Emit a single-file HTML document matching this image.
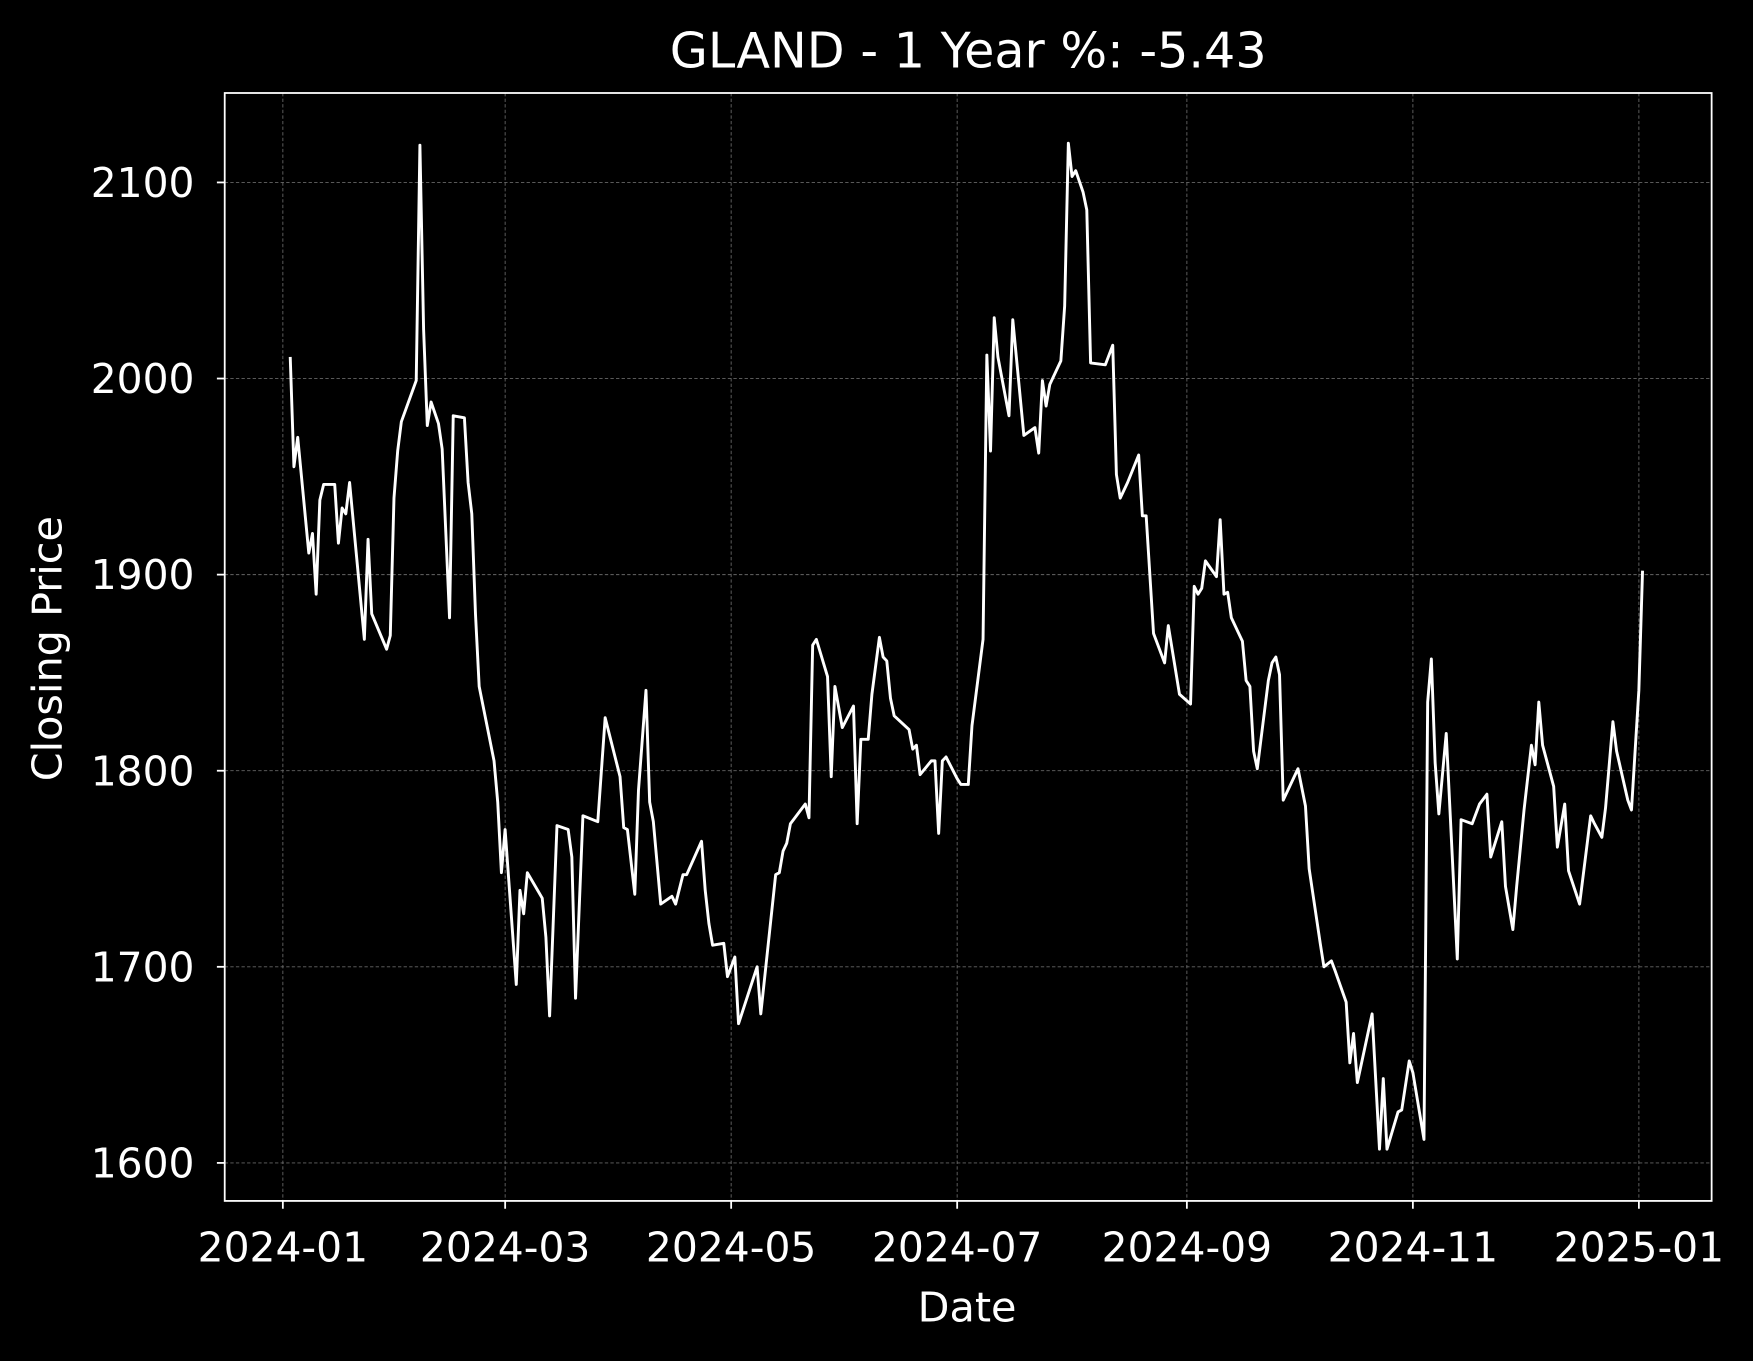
<!DOCTYPE html>
<html><head><meta charset="utf-8"><style>html,body{margin:0;padding:0;background:#000}svg{display:block}</style></head>
<body>
<svg id="chart" xmlns="http://www.w3.org/2000/svg" width="1753" height="1361" viewBox="0 0 1568 1217" style="background:#000">
<rect x="0" y="0" width="1568" height="1217" fill="#000"/>
<g id="grid"></g>
<g id="series"></g>
<rect x="201" y="83" width="1330" height="991" fill="none" stroke="#fff" stroke-width="1.6"/>
<g id="ticks" font-family="DejaVu Sans, Liberation Sans, sans-serif" font-size="36.5" fill="#fff"></g>
<text x="866" y="60" text-anchor="middle" font-family="DejaVu Sans, Liberation Sans, sans-serif" font-size="44" fill="#fff">GLAND - 1 Year %: -5.43</text>
<text x="865" y="1182" text-anchor="middle" font-family="DejaVu Sans, Liberation Sans, sans-serif" font-size="37" fill="#fff">Date</text>
<text x="0" y="0" transform="translate(55,580) rotate(-90)" text-anchor="middle" font-family="DejaVu Sans, Liberation Sans, sans-serif" font-size="37" fill="#fff">Closing Price</text>
</svg>
<script>
// days since 2024-01-01
const days = [2,3,4,7,8,9,10,11,14,15,16,17,18,22,23,24,28,29,30,31,32,36,37,38,39,40,42,43,45,46,49,50,51,52,53,57,58,59,60,63,64,65,66,70,71,72,74,77,78,79,81,85,87,91,92,93,95,96,98,99,100,102,105,106,108,109,113,114,115,116,119,120,122,123,128,129,133,134,135,136,137,141,142,143,144,147,148,149,151,154,155,156,158,159,161,162,163,164,165,169,170,171,172,175,176,177,178,179,182,183,185,186,189,190,191,192,193,196,197,200,203,204,205,206,207,210,211,212,213,214,216,217,218,222,224,225,226,228,231,232,233,235,238,239,242,245,246,247,248,249,252,253,254,255,256,259,260,261,262,263,266,267,268,269,270,274,276,277,280,281,283,284,287,288,289,290,294,296,297,298,301,302,304,305,308,309,310,311,312,314,317,318,321,323,325,326,329,330,332,333,335,337,338,339,340,343,344,346,347,350,353,354,356,357,359,360,363,364,366,367];
const closes = [2011,1955,1970,1911,1921,1890,1938,1946,1946,1916,1934,1931,1947,1867,1918,1880,1862,1869,1939,1963,1978,1999,2119,2025,1976,1988,1977,1964,1878,1981,1980,1947,1931,1880,1843,1805,1784,1748,1770,1691,1739,1727,1748,1735,1715,1675,1772,1770,1756,1684,1777,1774,1827,1797,1771,1770,1737,1790,1841,1784,1774,1732,1736,1732,1747,1747,1764,1739,1722,1711,1712,1695,1705,1671,1700,1676,1747,1748,1759,1763,1773,1783,1776,1864,1867,1848,1797,1843,1822,1833,1773,1816,1816,1839,1868,1858,1856,1837,1828,1821,1811,1813,1798,1805,1805,1768,1805,1807,1796,1793,1793,1823,1867,2012,1963,2031,2011,1981,2030,1971,1975,1962,1999,1986,1997,2009,2037,2120,2103,2106,2095,2086,2008,2007,2017,1951,1939,1947,1961,1930,1930,1870,1855,1874,1839,1834,1894,1890,1893,1907,1899,1928,1890,1891,1878,1866,1846,1843,1810,1801,1846,1855,1858,1849,1785,1801,1782,1750,1712,1700,1703,1698,1682,1651,1666,1641,1676,1607,1643,1607,1626,1627,1652,1646,1612,1835,1857,1804,1778,1819,1704,1775,1773,1783,1788,1756,1774,1741,1719,1741,1780,1813,1803,1835,1813,1792,1761,1783,1749,1732,1777,1773,1766,1781,1825,1810,1785,1780,1841,1902];
const xTickDays = [0,60,121,182,244,305,366];
const xTickLabels = ["2024-01","2024-03","2024-05","2024-07","2024-09","2024-11","2025-01"];
const yTickValues = [1600,1700,1800,1900,2000,2100];

const NS = "http://www.w3.org/2000/svg";
const xScale = d => 253 + d * 3.314;
const yScale = v => 163 + (2100 - v) * 1.754;
const grid = document.getElementById('grid');
const ticks = document.getElementById('ticks');
const series = document.getElementById('series');
function mk(tag, attrs, parent){const e=document.createElementNS(NS,tag);for(const k in attrs)e.setAttribute(k,attrs[k]);parent.appendChild(e);return e;}

xTickDays.forEach((d,i)=>{
  const x = xScale(d);
  const g = mk('line',{x1:x,x2:x,y1:83,y2:1074,stroke:'#666','stroke-width':0.8,'stroke-dasharray':'3,2'},grid);
  
  
  const t = mk('line',{x1:x,x2:x,y1:1074,y2:1081,stroke:'#fff','stroke-width':1.6},ticks);
  
  
  const l = mk('text',{x:x,y:1128,'text-anchor':'middle'},ticks);
  l.textContent = xTickLabels[i];
  
  
});
yTickValues.forEach(v=>{
  const y = yScale(v);
  const g = mk('line',{x1:201,x2:1531,y1:y,y2:y,stroke:'#666','stroke-width':0.8,'stroke-dasharray':'3,2'},grid);
  
  
  const t = mk('line',{x1:194,x2:201,y1:y,y2:y,stroke:'#fff','stroke-width':1.6},ticks);
  
  
  const l = mk('text',{x:174,y:y+13,'text-anchor':'end'},ticks);
  l.textContent = String(v);
  
  
});
const pts = days.map((d,i)=>xScale(d).toFixed(1)+','+yScale(closes[i]).toFixed(1)).join(' ');
const line = mk('polyline',{points:pts,fill:'none',stroke:'#fff','stroke-width':2.6,'stroke-linejoin':'round'},series);


</script>
</body></html>
